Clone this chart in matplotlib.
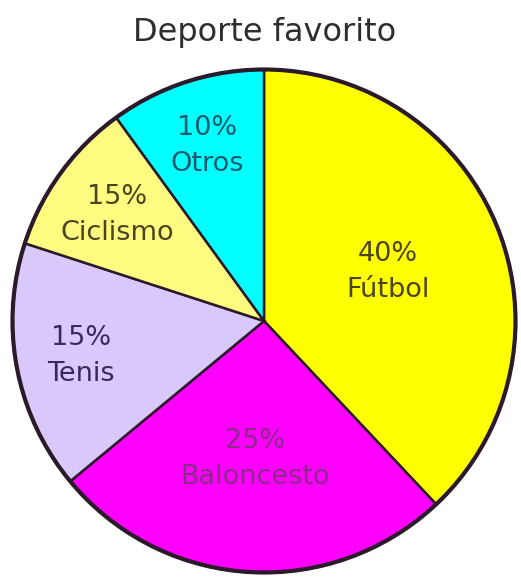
import matplotlib
matplotlib.use("Agg")
import matplotlib.pyplot as plt
import numpy as np
from matplotlib.patches import Circle

# Data
categories = ["Fútbol", "Baloncesto", "Tenis", "Ciclismo", "Otros"]
pct_labels = [40, 25, 15, 15, 10]          # percentages printed on the chart
drawn_share = [38, 26, 16, 10, 10]          # wedge sizes as drawn in the picture
colors = ["#FFFF00", "#FF00FF", "#D9C8FA", "#FFFA80", "#00FFFF"]
text_colors = ["#4A4420", "#8A2A8A", "#3A2A5A", "#4A4420", "#1A5A6A"]
label_r = [0.53, 0.55, 0.74, 0.72, 0.73]

W, H = 521, 577
fig = plt.figure(figsize=(W / 100, H / 100), dpi=100)
fig.patch.set_facecolor("white")

cx, cy, R = 264, 321, 254
ax = fig.add_axes([(cx - R) / W, (H - cy - R) / H, 2 * R / W, 2 * R / H])
wedges, _ = ax.pie(drawn_share, colors=colors, startangle=90, counterclock=False,
                   radius=1.0,
                   wedgeprops=dict(edgecolor="#2A1A2A", linewidth=1.8))
ax.add_patch(Circle((0, 0), 1.0, fill=False, edgecolor="#2A1A2A", linewidth=3.0, zorder=5))
ax.set_xlim(-1.01, 1.01)
ax.set_ylim(-1.01, 1.01)
ax.set_aspect("equal")
ax.axis("off")

for w, cat, p, tc, r in zip(wedges, categories, pct_labels, text_colors, label_r):
    mid = np.deg2rad((w.theta1 + w.theta2) / 2)
    x, y = r * np.cos(mid), r * np.sin(mid)
    ax.text(x, y, f"{p}%\n{cat}", ha="center", va="center", color=tc,
            fontsize=19.5, family="DejaVu Sans", linespacing=1.5, zorder=6)

fig.text(265 / W, 1 - 32 / H, "Deporte favorito", ha="center", va="center",
         fontsize=23, color="#2E2E2E", family="DejaVu Sans")

fig.savefig("out.png", dpi=100, facecolor="white")
